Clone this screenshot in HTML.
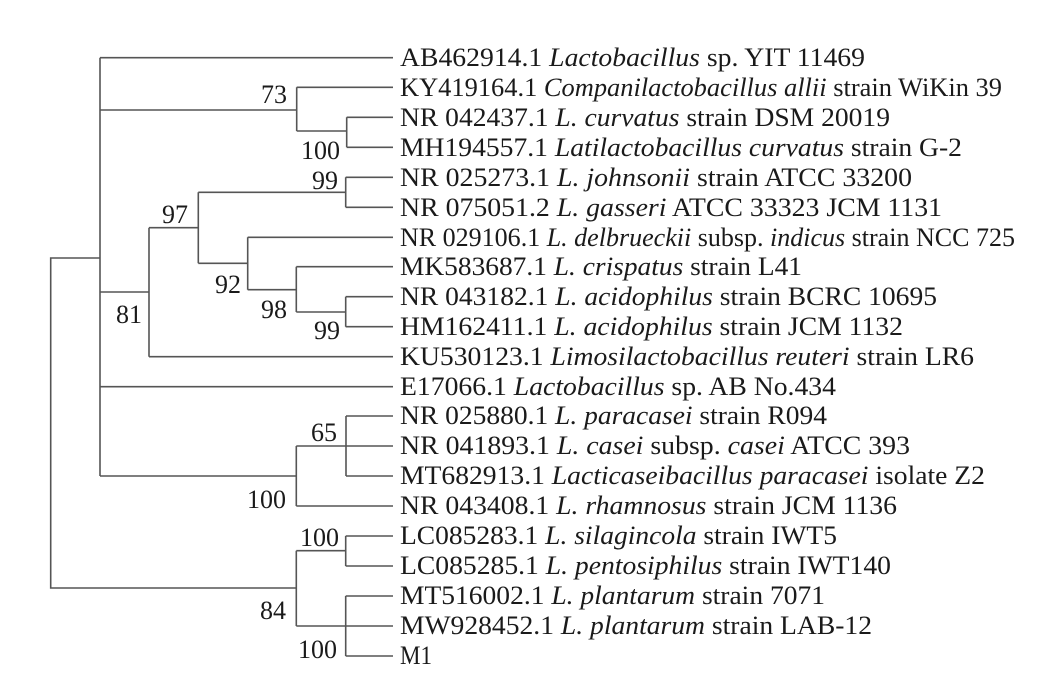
<!DOCTYPE html>
<html><head><meta charset="utf-8"><style>
html,body{margin:0;padding:0;background:#fff;}
svg{display:block;}
text{font-family:"Liberation Serif",serif;font-size:26px;fill:#1a1a1a;}
</style></head><body>
<svg width="1038" height="679" viewBox="0 0 1038 679" xmlns="http://www.w3.org/2000/svg">
<g stroke="#555" stroke-width="1.6" fill="none">
<path d="M100,258 H50.7 V588 H296.3"/>
<path d="M100,57.7 V476"/>
<path d="M100,57.7 H393"/>
<path d="M100,110 H296.7"/>
<path d="M100,292 H149"/>
<path d="M100,386.7 H393"/>
<path d="M100,476 H296.3"/>
<path d="M296.7,87.3 V131 M296.7,87.3 H393 M296.7,131 H346.7"/>
<path d="M346.7,117.3 V147.3 M346.7,117.3 H393 M346.7,147.3 H393"/>
<path d="M149,227.7 V356.7 M149,227.7 H198.3 M149,356.7 H393"/>
<path d="M198.3,192.3 V263.3 M198.3,192.3 H345.7 M198.3,263.3 H247.7"/>
<path d="M345.7,177.3 V207.3 M345.7,177.3 H393 M345.7,207.3 H393"/>
<path d="M247.7,237.3 V289.7 M247.7,237.3 H393 M247.7,289.7 H296.3"/>
<path d="M296.3,266.7 V312 M296.3,266.7 H393 M296.3,312 H345.7"/>
<path d="M345.7,296.7 V326.7 M345.7,296.7 H393 M345.7,326.7 H393"/>
<path d="M296.3,446 V506 M296.3,446 H393 M296.3,506 H393"/>
<path d="M346,416 V476 M346,416 H393 M346,476 H393"/>
<path d="M296.3,550.7 V626 M296.3,550.7 H345.7 M296.3,626 H393"/>
<path d="M345.7,536 V566 M345.7,536 H393 M345.7,566 H393"/>
<path d="M345.7,596 V656 M345.7,596 H393 M345.7,656 H393"/>
</g>
<g text-anchor="end">
<text x="287" y="103">73</text>
<text x="340" y="159">100</text>
<text x="338" y="189">99</text>
<text x="188" y="223">97</text>
<text x="241" y="293">92</text>
<text x="287" y="318">98</text>
<text x="340" y="339">99</text>
<text x="142" y="323">81</text>
<text x="337" y="441">65</text>
<text x="286" y="508">100</text>
<text x="339" y="546">100</text>
<text x="286" y="619">84</text>
<text x="337" y="658">100</text>
</g>
<g>
<text x="400" y="66" textLength="465" lengthAdjust="spacingAndGlyphs">AB462914.1 <tspan font-style="italic">Lactobacillus</tspan> sp. YIT 11469</text>
<text x="400" y="96" textLength="602" lengthAdjust="spacingAndGlyphs">KY419164.1 <tspan font-style="italic">Companilactobacillus allii</tspan> strain WiKin 39</text>
<text x="400" y="126" textLength="490" lengthAdjust="spacingAndGlyphs">NR 042437.1 <tspan font-style="italic">L. curvatus</tspan> strain DSM 20019</text>
<text x="400" y="156" textLength="562" lengthAdjust="spacingAndGlyphs">MH194557.1 <tspan font-style="italic">Latilactobacillus curvatus</tspan> strain G-2</text>
<text x="400" y="186" textLength="512" lengthAdjust="spacingAndGlyphs">NR 025273.1 <tspan font-style="italic">L. johnsonii</tspan> strain ATCC 33200</text>
<text x="400" y="216" textLength="542" lengthAdjust="spacingAndGlyphs">NR 075051.2 <tspan font-style="italic">L. gasseri</tspan> ATCC 33323 JCM 1131</text>
<text x="400" y="246" textLength="615" lengthAdjust="spacingAndGlyphs">NR 029106.1 <tspan font-style="italic">L. delbrueckii</tspan> subsp. <tspan font-style="italic">indicus</tspan> strain NCC 725</text>
<text x="400" y="275" textLength="402" lengthAdjust="spacingAndGlyphs">MK583687.1 <tspan font-style="italic">L. crispatus</tspan> strain L41</text>
<text x="400" y="305" textLength="537" lengthAdjust="spacingAndGlyphs">NR 043182.1 <tspan font-style="italic">L. acidophilus</tspan> strain BCRC 10695</text>
<text x="400" y="335" textLength="503" lengthAdjust="spacingAndGlyphs">HM162411.1 <tspan font-style="italic">L. acidophilus</tspan> strain JCM 1132</text>
<text x="400" y="365" textLength="574" lengthAdjust="spacingAndGlyphs">KU530123.1 <tspan font-style="italic">Limosilactobacillus reuteri</tspan> strain LR6</text>
<text x="400" y="395" textLength="436" lengthAdjust="spacingAndGlyphs">E17066.1 <tspan font-style="italic">Lactobacillus</tspan> sp. AB No.434</text>
<text x="400" y="424" textLength="427" lengthAdjust="spacingAndGlyphs">NR 025880.1 <tspan font-style="italic">L. paracasei</tspan> strain R094</text>
<text x="400" y="454" textLength="510" lengthAdjust="spacingAndGlyphs">NR 041893.1 <tspan font-style="italic">L. casei</tspan> subsp. <tspan font-style="italic">casei</tspan> ATCC 393</text>
<text x="400" y="484" textLength="585" lengthAdjust="spacingAndGlyphs">MT682913.1 <tspan font-style="italic">Lacticaseibacillus paracasei</tspan> isolate Z2</text>
<text x="400" y="514" textLength="497" lengthAdjust="spacingAndGlyphs">NR 043408.1 <tspan font-style="italic">L. rhamnosus</tspan> strain JCM 1136</text>
<text x="400" y="544" textLength="437" lengthAdjust="spacingAndGlyphs">LC085283.1 <tspan font-style="italic">L. silagincola</tspan> strain IWT5</text>
<text x="400" y="574" textLength="491" lengthAdjust="spacingAndGlyphs">LC085285.1 <tspan font-style="italic">L. pentosiphilus</tspan> strain IWT140</text>
<text x="400" y="604" textLength="425" lengthAdjust="spacingAndGlyphs">MT516002.1 <tspan font-style="italic">L. plantarum</tspan> strain 7071</text>
<text x="400" y="634" textLength="472" lengthAdjust="spacingAndGlyphs">MW928452.1 <tspan font-style="italic">L. plantarum</tspan> strain LAB-12</text>
<text x="400" y="664" textLength="32" lengthAdjust="spacingAndGlyphs">M1</text>
</g>
</svg>
</body></html>
